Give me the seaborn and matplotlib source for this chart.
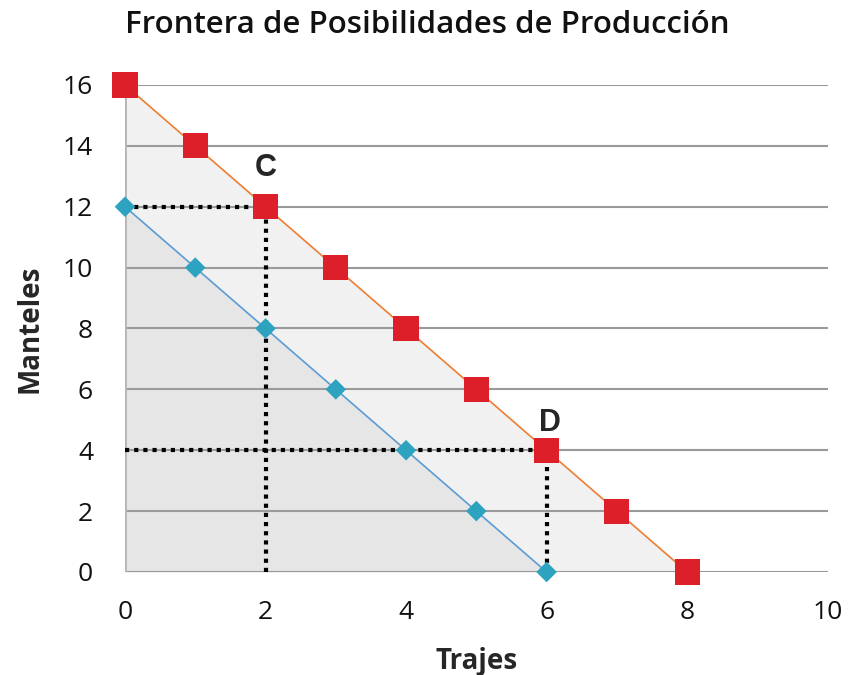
import matplotlib
matplotlib.use("Agg")
import matplotlib.pyplot as plt
import seaborn as sns
import pandas as pd

trajes_a = [0, 1, 2, 3, 4, 5, 6, 7, 8]
manteles_a = [16, 14, 12, 10, 8, 6, 4, 2, 0]
trajes_b = [0, 1, 2, 3, 4, 5, 6]
manteles_b = [12, 10, 8, 6, 4, 2, 0]
point_c = (2, 12)
point_d = (6, 4)
xticks = [0, 2, 4, 6, 8, 10]
yticks = [0, 2, 4, 6, 8, 10, 12, 14, 16]

sns.set_theme(style="white")
plt.rcParams['font.family'] = ['Open Sans', 'DejaVu Sans']

fig = plt.figure(figsize=(8.48, 6.75), dpi=100)
ax = fig.add_axes([0.1474, 0.1526, 0.8286, 0.7215])

ax.fill_between(trajes_a, manteles_a, 0, color="#f1f1f1", zorder=0, lw=0)
ax.fill_between(trajes_b, manteles_b, 0, color="#e6e6e6", zorder=0.5, lw=0)

for y in yticks:
    ax.axhline(y, color="#9a9a9a", lw=1.5, zorder=1)
ax.axvline(0, color="#b5b5b5", lw=2, zorder=1)

dfa = pd.DataFrame({"x": trajes_a, "y": manteles_a})
dfb = pd.DataFrame({"x": trajes_b, "y": manteles_b})
sns.lineplot(data=dfa, x="x", y="y", ax=ax, color="#ED7D31", lw=1.2, zorder=2)
sns.lineplot(data=dfb, x="x", y="y", ax=ax, color="#5B9BD5", lw=1.2, zorder=2)

# dotted guides
for (px, py) in [point_c, point_d]:
    ax.plot([0, px], [py, py], color="black", lw=3, ls=(0, (1, 1.2)), zorder=3)
    ax.plot([px, px], [0, py], color="black", lw=3, ls=(0, (1, 1.2)), zorder=3)

sns.scatterplot(data=dfa, x="x", y="y", ax=ax, marker="s", s=330, color="#DD1F2A",
                edgecolor="none", zorder=4, clip_on=False)
sns.scatterplot(data=dfb, x="x", y="y", ax=ax, marker="D", s=110, color="#2EA3C0",
                edgecolor="none", zorder=4, clip_on=False)

ax.text(point_c[0], point_c[1] + 1.28, "C", fontsize=22, fontweight="bold",
        family=["Liberation Sans"], ha="center", va="center")
ax.text(point_d[0] + 0.05, point_d[1] + 0.9, "D", fontsize=22, fontweight="bold",
        family=["Liberation Sans"], ha="center", va="center")

ax.set_xlim(0, 10)
ax.set_ylim(0, 16)
ax.set_xticks(xticks)
ax.set_yticks(yticks)
ax.tick_params(axis="both", length=0, labelsize=19, colors="#111111")
ax.tick_params(axis="x", pad=20)
ax.tick_params(axis="y", pad=23)
for s in ax.spines.values():
    s.set_visible(False)
ax.grid(False)

ax.set_xlabel("Trajes", fontsize=20, fontweight="bold", labelpad=16)
ax.set_ylabel("Manteles", fontsize=20, fontweight="bold", labelpad=13)
fig.suptitle("Frontera de Posibilidades de Producción", x=0.504, y=0.985,
             fontsize=22.5, fontweight="semibold", color="#111111")

fig.savefig("out.png", dpi=100)
